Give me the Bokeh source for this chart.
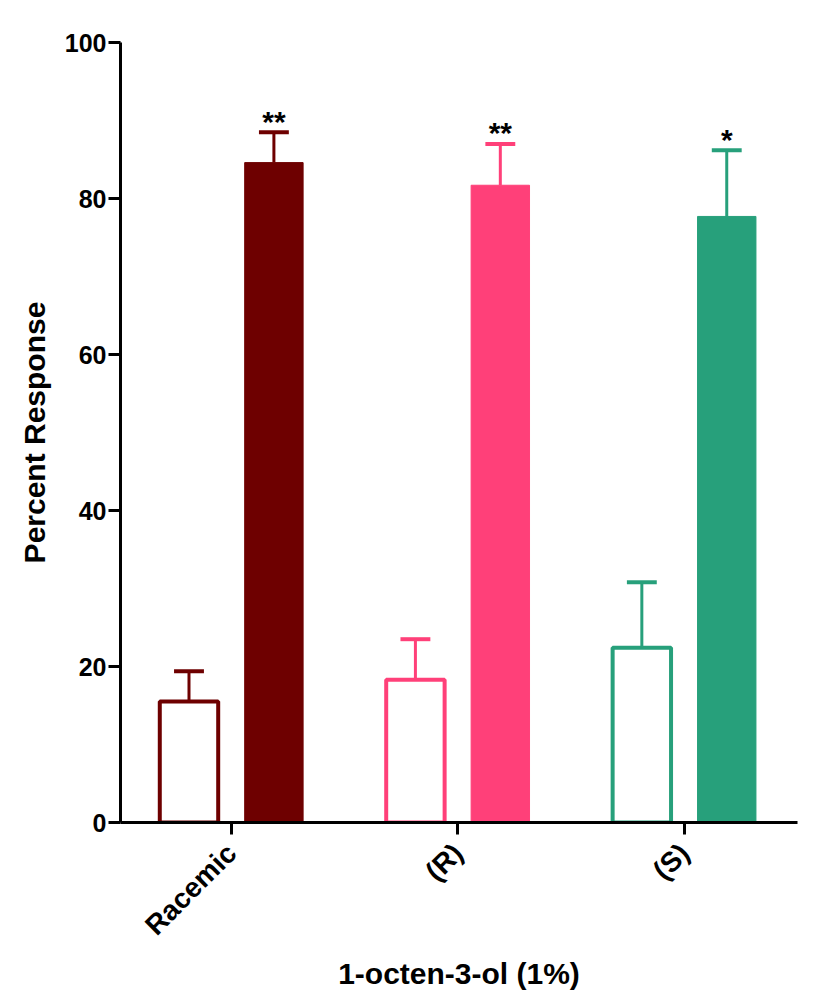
from math import pi
from bokeh.plotting import figure
from bokeh.models import Range1d, FixedTicker
from bokeh.core.properties import value
from bokeh.embed import file_html
from bokeh.resources import INLINE

# ---- data ----
categories = ["Racemic", "(R)", "(S)"]
control_mean = [15.5, 18.3, 22.4]
control_sem = [3.9, 5.2, 8.4]
treat_mean = [84.6, 81.7, 77.7]
treat_sem = [3.9, 5.3, 8.5]
significance = ["**", "**", "*"]
colors = ["#6E0000", "#FF4079", "#27A07B"]
y_ticks = [0, 20, 40, 60, 80, 100]
x_label = "1-octen-3-ol (1%)"
y_label = "Percent Response"

FONT = "Liberation Sans"
pos = [1, 2, 3]
off = 0.1875
bw = 0.258
cap = 0.066

xc = [p_ - off for p_ in pos]
xt = [p_ + off for p_ in pos]
c_top = [m + s for m, s in zip(control_mean, control_sem)]
t_top = [m + s for m, s in zip(treat_mean, treat_sem)]

p = figure(width=815, height=1000, x_range=Range1d(0.51, 3.5), y_range=Range1d(0, 100),
           output_backend="svg", toolbar_location=None,
           min_border_left=120, min_border_right=18, min_border_top=42, min_border_bottom=178)
p.outline_line_color = None
p.xgrid.visible = False
p.ygrid.visible = False
p.background_fill_color = "white"

# bars
p.vbar(x=xc, top=control_mean, width=bw, fill_color="white", line_color=colors, line_width=4)
p.vbar(x=xt, top=treat_mean, width=bw, fill_color=colors, line_color=colors, line_width=1)

# error bars
p.segment(x0=xc, y0=control_mean, x1=xc, y1=c_top, line_color=colors, line_width=3)
p.segment(x0=[x - cap for x in xc], y0=c_top, x1=[x + cap for x in xc], y1=c_top,
          line_color=colors, line_width=4)
p.segment(x0=xt, y0=treat_mean, x1=xt, y1=t_top, line_color=colors, line_width=3)
p.segment(x0=[x - cap for x in xt], y0=t_top, x1=[x + cap for x in xt], y1=t_top,
          line_color=colors, line_width=4)

# significance stars
p.text(x=xt, y=t_top, text=significance, text_align="center", text_baseline="alphabetic",
       text_font=value(FONT), text_font_style="bold", text_font_size="30px",
       text_color="black", y_offset=-11)

# axes
for ax in (p.xaxis, p.yaxis):
    ax.axis_line_width = 3
    ax.axis_line_color = "black"
    ax.major_tick_line_width = 3
    ax.major_tick_line_color = "black"
    ax.major_tick_in = 0
    ax.major_tick_out = 12
    ax.minor_tick_line_color = None
    ax.axis_label_text_font = FONT
    ax.axis_label_text_font_style = "bold"
    ax.axis_label_text_font_size = "30px"
    ax.axis_label_text_color = "black"
    ax.major_label_text_font = FONT
    ax.major_label_text_font_style = "bold"
    ax.major_label_text_color = "black"

p.yaxis.ticker = FixedTicker(ticks=y_ticks)
p.yaxis.major_label_text_font_size = "25px"
p.yaxis.major_label_standoff = 2
p.yaxis.axis_label = y_label
p.yaxis.axis_label_standoff = 11

p.xaxis.ticker = FixedTicker(ticks=pos)
p.xaxis.major_label_overrides = {k: name for k, name in zip(pos, categories)}
p.xaxis.major_label_text_font_size = "28px"
p.xaxis.major_label_orientation = pi / 4
p.xaxis.major_label_standoff = 14
p.xaxis.axis_label = x_label
p.xaxis.axis_label_standoff = 2

open("out.html", "w").write(file_html(p, INLINE))
